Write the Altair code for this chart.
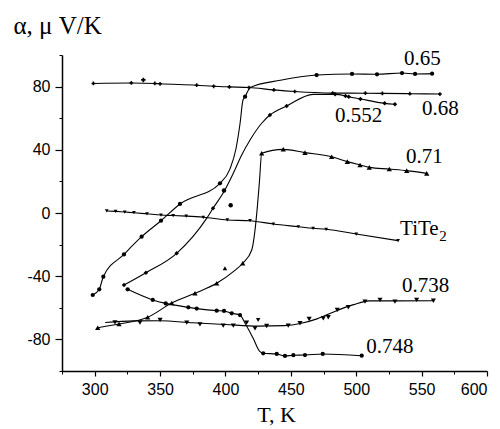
import altair as alt
import pandas as pd

# ---- series "0.68" (flat top curve)
A_T = [299, 328, 346, 350, 378, 391, 403, 418, 437, 453, 482, 507, 520, 541, 564]
A_a = [82.0, 82.3, 82.0, 81.8, 80.9, 80.2, 79.8, 79.4, 77.9, 76.9, 75.9, 75.8, 75.7, 75.5, 75.3]
A_m = [1] * 15

# ---- series "0.65"
B_T = [298.5, 303.5, 306.6, 322.4, 335.9, 350.7, 365.2, 395.8, 403.4, 408.0, 411.1, 413.4, 415.0, 419.0,
       442.0, 469.7, 496.8, 515.9, 535.0, 545.0, 558.0]
B_a = [-51.9, -48.3, -40.3, -26.2, -15.0, -4.9, 5.7, 18.8, 27.8, 40.5, 56.3, 71.5, 73.6, 79.5,
       84.0, 87.3, 88.0, 87.8, 88.6, 88.0, 88.2]
B_m = [1, 1, 1, 1, 1, 1, 1, 1, 0, 0, 0, 0, 1, 0, 0, 1, 1, 1, 1, 1, 1]

# ---- series "0.552"
C_T = [322.4, 339.2, 362.7, 385.6, 390.5, 399.6, 406.0, 412.4, 418.8, 427.7, 434.0, 446.8, 467.0,
       483.8, 491.8, 494.3, 503.2, 521.7, 529.6]
C_a = [-45.6, -37.8, -25.5, -3.4, 3.0, 14.6, 25.1, 36.7, 46.2, 56.8, 62.0, 67.7, 75.1,
       75.1, 74.1, 73.6, 72.2, 69.4, 68.8]
C_m = [1, 1, 1, 0, 1, 0, 0, 0, 0, 0, 1, 1, 0, 1, 1, 1, 1, 1, 1]

# ---- series "0.71"
D_T = [302.3, 318.6, 340.5, 358.9, 376.7, 393.3, 406.0, 413.2, 420.1, 422.6, 424.5, 426.0, 427.7,
       444.2, 460.8, 481.2, 493.2, 502.9, 510.0, 525.3, 538.6, 553.9]
D_a = [-72.6, -70.3, -66.0, -57.0, -50.8, -44.5, -37.1, -31.8, -23.4, -10.8, 5.0, 20.0, 37.8,
       40.3, 38.2, 35.6, 32.5, 30.4, 28.9, 27.8, 26.8, 25.1]
D_m = [1, 1, 1, 1, 1, 1, 0, 1, 0, 0, 0, 0, 1, 1, 1, 1, 1, 1, 1, 1, 1, 1]

# ---- series "TiTe2"
E_T = [309.2, 316, 323, 330, 340, 350.7, 360, 370, 383, 401.4, 418.8, 436.6, 455.7, 467, 477, 500, 532]
E_a = [1.3, 1.0, 0.6, 0.2, -0.5, -1.3, -1.6, -2.0, -2.7, -4.4, -4.9, -7.0, -8.7, -9.7, -10.3, -13.3, -17.5]
E_m = [1] * 17

# ---- series "0.738" (line knots and markers)
FL_T = [308, 330, 350, 375, 400, 425, 445, 458, 470, 485, 498, 510, 530, 559]
FL_a = [-69.3, -68.3, -68.2, -69.5, -70.6, -71.6, -71.3, -69.8, -67.0, -61.8, -58.0, -55.6, -55.6, -55.5]
F_T = [315.5, 334.6, 350.0, 370.4, 380.5, 398.3, 406.0, 416.2, 422.6, 431.5, 448.0, 457.0, 464.0,
       474.8, 478.6, 485.5, 494.0, 506.7, 518.2, 529.6, 546.2, 559.0]
F_a = [-69.2, -69.4, -67.7, -69.4, -70.5, -71.3, -71.3, -69.4, -73.0, -71.5, -71.3, -69.8, -67.1,
       -66.7, -66.0, -61.4, -59.7, -56.1, -55.0, -56.1, -55.0, -55.5]

# ---- series "0.748"
G_T = [325.2, 344.4, 354.3, 371.6, 378.0, 393.3, 398.9, 404.8, 411.1, 415.0, 421.0, 426.4, 428.9,
       439.2, 445.5, 451.9, 460.8, 474.4, 504.2]
G_a = [-48.3, -55.0, -57.2, -59.7, -60.5, -61.8, -62.0, -63.5, -64.6, -69.8, -79.0, -87.8, -88.8,
       -89.2, -90.5, -90.0, -89.9, -89.2, -90.3]
G_m = [1, 1, 1, 1, 1, 1, 1, 1, 1, 0, 0, 0, 1, 1, 1, 1, 1, 1, 1]

# ---- scattered off-curve points
X_T = [337.2, 399.6, 398.9, 404.0, 425.0]
X_a = [84.2, -35.0, 14.2, 4.9, -67.7]
X_s = ["cross", "triangle-up", "circle", "circle", "triangle-down"]

# ---- curve labels
L_text = ["0.65", "0.552", "0.68", "0.71", "TiTe", "0.738", "0.748"]
L_T = [536.5, 483.8, 550.3, 538.0, 533.5, 535.0, 507.7]
L_a = [93.7, 57.6, 62.0, 31.6, -13.9, -50.0, -88.6]
SUB_text = ["2"]
SUB_T = [563.5]
SUB_a = [-18.0]

X_MAJOR = [300, 350, 400, 450, 500, 550, 600]
X_MINOR = [275, 325, 375, 425, 475, 525, 575]
Y_MAJOR = [-80, -40, 0, 40, 80]
Y_MINOR = [-100, -60, -20, 20, 60, 100]

shapes = {"A": ("cross", 14), "B": ("circle", 18), "C": ("diamond", 20), "D": ("triangle-up", 28),
          "E": ("triangle-down", 14), "F": ("triangle-down", 26), "G": ("circle", 18)}

line_rows, mark_rows = [], []
for key, T, a, m in [("A", A_T, A_a, A_m), ("B", B_T, B_a, B_m), ("C", C_T, C_a, C_m),
                     ("D", D_T, D_a, D_m), ("E", E_T, E_a, E_m), ("G", G_T, G_a, G_m)]:
    for t, v, f in zip(T, a, m):
        line_rows.append({"s": key, "T": t, "a": v})
        if f:
            mark_rows.append({"s": key, "T": t, "a": v, "shape": shapes[key][0], "size": shapes[key][1]})
for t, v in zip(FL_T, FL_a):
    line_rows.append({"s": "F", "T": t, "a": v})
for t, v in zip(F_T, F_a):
    mark_rows.append({"s": "F", "T": t, "a": v, "shape": shapes["F"][0], "size": shapes["F"][1]})
for t, v, sh in zip(X_T, X_a, X_s):
    mark_rows.append({"s": "X", "T": t, "a": v, "shape": sh, "size": 20})

lines_df = pd.DataFrame(line_rows)
marks_df = pd.DataFrame(mark_rows)
labels_df = pd.DataFrame({"text": L_text, "T": L_T, "a": L_a})
sub_df = pd.DataFrame({"text": SUB_text, "T": SUB_T, "a": SUB_a})

xscale = alt.Scale(domain=[275, 600], nice=False, zero=False)
yscale = alt.Scale(domain=[-100, 100], nice=False, zero=False)

x_axis = alt.Axis(values=X_MAJOR, grid=False, orient="bottom", tickSize=5, tickWidth=1.2,
                  tickColor="black", domainColor="black", domainWidth=1.5,
                  labelFont="Liberation Sans", labelFontSize=16, labelColor="black", labelPadding=5,
                  labelExpr="'' + datum.value",
                  title="T, K", titleFont="Liberation Serif", titleFontSize=22, titleFontWeight="normal",
                  titleColor="black", titleX=214, titleY=50, titleAlign="center", titleBaseline="alphabetic")
y_axis = alt.Axis(values=Y_MAJOR, grid=False, orient="left", tickSize=7, tickWidth=1.2,
                  tickColor="black", domainColor="black", domainWidth=1.5,
                  labelFont="Liberation Sans", labelFontSize=16, labelColor="black", labelPadding=5,
                  labelExpr="'' + datum.value",
                  title="α,  μ V/K", titleFont="Liberation Serif", titleFontSize=25, titleFontWeight="normal",
                  titleColor="black", titleAngle=0, titleX=-49, titleY=-22, titleAlign="left",
                  titleBaseline="alphabetic")
x_minor = alt.Axis(values=X_MINOR, grid=False, orient="bottom", tickSize=3, tickWidth=1,
                   tickColor="black", domain=False, labels=False, title=None)
y_minor = alt.Axis(values=Y_MINOR, grid=False, orient="left", tickSize=3, tickWidth=1,
                   tickColor="black", domain=False, labels=False, title=None)

lines = alt.Chart(lines_df).mark_line(color="black", strokeWidth=1.1, interpolate="monotone").encode(
    x=alt.X("T:Q", scale=xscale, axis=x_axis),
    y=alt.Y("a:Q", scale=yscale, axis=y_axis),
    detail="s:N",
)
points = alt.Chart(marks_df).mark_point(filled=True, color="black", opacity=1).encode(
    x=alt.X("T:Q", scale=xscale, axis=x_minor),
    y=alt.Y("a:Q", scale=yscale, axis=y_minor),
    shape=alt.Shape("shape:N", scale=None),
    size=alt.Size("size:Q", scale=None),
)
labels = alt.Chart(labels_df).mark_text(font="Liberation Serif", fontSize=21, align="left",
                                        baseline="alphabetic", color="black").encode(
    x=alt.X("T:Q", scale=xscale, axis=None),
    y=alt.Y("a:Q", scale=yscale, axis=None),
    text="text:N",
)
sub = alt.Chart(sub_df).mark_text(font="Liberation Serif", fontSize=15, align="left",
                                  baseline="alphabetic", color="black").encode(
    x=alt.X("T:Q", scale=xscale, axis=None),
    y=alt.Y("a:Q", scale=yscale, axis=None),
    text="text:N",
)

chart = alt.layer(lines, points, labels, sub).resolve_axis(x="independent", y="independent").properties(
    width=425, height=316,
    autosize=alt.AutoSizeParams(type="none"),
    padding={"left": 54, "top": 47, "right": 5, "bottom": 58},
    background="white",
).configure_view(stroke=None)

chart.save("out.html", embed_options={"renderer": "svg", "actions": False})
